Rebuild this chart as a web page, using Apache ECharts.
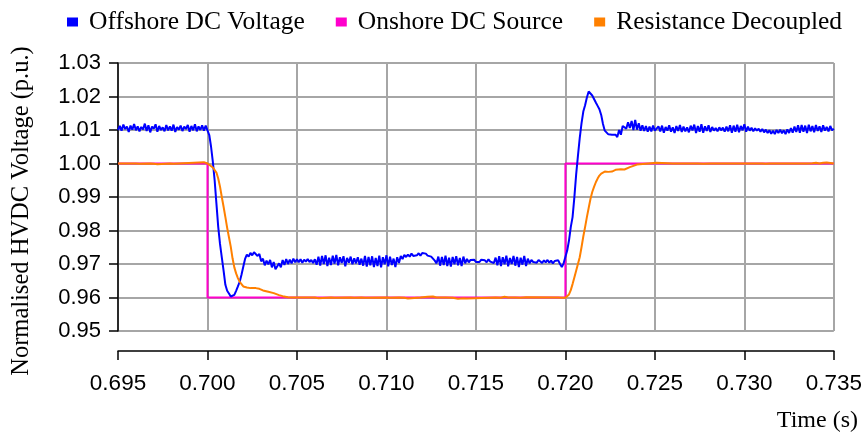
<!DOCTYPE html>
<html>
<head>
<meta charset="utf-8">
<title>HVDC voltage step response</title>
<script src="https://cdn.jsdelivr.net/npm/echarts@6/dist/echarts.min.js"></script>
<style>
  html, body { margin: 0; padding: 0; background: #fff; }
  #chart { width: 865px; height: 432px; }
</style>
</head>
<body>
<div id="chart"></div>
<script>
// Axis ranges and ticks
const xTicks = { min: 0.695, max: 0.735, step: 0.005 };
const yTicks = { min: 0.95, max: 1.03, step: 0.01 };

const seriesNames = ['Offshore DC Voltage', 'Onshore DC Source', 'Resistance Decoupled'];

// Onshore DC source: ideal step down at 0.700 s and back up at 0.720 s
const onshoreTime  = [0.695, 0.700, 0.700, 0.720, 0.720, 0.735];
const onshoreValue = [1.000, 1.000, 0.960, 0.960, 1.000, 1.000];

// Offshore DC voltage, sampled every 0.1 ms; each block lists its start time
const SAMPLE_STEP = 0.0001;

const offshoreBefore = [   // from 0.6950 s
  1.0100, 1.0112, 1.0098, 1.0116, 1.0103, 1.0110, 1.0094, 1.0113, 1.0101, 1.0118,
  1.0099, 1.0111, 1.0096, 1.0109, 1.0102, 1.0119, 1.0097, 1.0114, 1.0093, 1.0110,
  1.0104, 1.0117, 1.0095, 1.0112, 1.0100, 1.0108, 1.0096, 1.0115, 1.0099, 1.0111,
  1.0098, 1.0116, 1.0094, 1.0109, 1.0101, 1.0113, 1.0097, 1.0110, 1.0103, 1.0115,
  1.0095, 1.0112, 1.0099, 1.0117, 1.0096, 1.0111, 1.0100, 1.0114, 1.0098, 1.0113
];
const offshoreFall = [     // from 0.7000 s
  1.0112, 1.0085, 1.0050, 1.0005, 0.9950, 0.9880, 0.9811, 0.9760, 0.9720, 0.9680,
  0.9638, 0.9620, 0.9612, 0.9603, 0.9598, 0.9608, 0.9620, 0.9633, 0.9647, 0.9668,
  0.9692, 0.9715, 0.9728, 0.9722, 0.9733, 0.9726, 0.9735, 0.9738, 0.9724, 0.9730,
  0.9708, 0.9716, 0.9696, 0.9710, 0.9699, 0.9712, 0.9690, 0.9706, 0.9684, 0.9681,
  0.9702, 0.9690, 0.9712, 0.9697, 0.9715, 0.9700, 0.9713, 0.9702, 0.9716, 0.9705,
  0.9714
];
const offshoreLow = [      // from 0.7051 s
  0.9705, 0.9714, 0.9704, 0.9713, 0.9707, 0.9715, 0.9706, 0.9712, 0.9703, 0.9714,
  0.9698, 0.9722, 0.9695, 0.9724, 0.9700, 0.9726, 0.9694, 0.9719, 0.9697, 0.9725,
  0.9701, 0.9727, 0.9696, 0.9720, 0.9703, 0.9723, 0.9693, 0.9718, 0.9704, 0.9722,
  0.9699, 0.9717, 0.9702, 0.9720, 0.9698, 0.9716, 0.9695, 0.9724, 0.9692, 0.9721,
  0.9696, 0.9723, 0.9691, 0.9718, 0.9694, 0.9725, 0.9690, 0.9720, 0.9699, 0.9726,
  0.9693, 0.9722, 0.9697, 0.9716, 0.9691, 0.9720, 0.9703, 0.9724, 0.9715, 0.9727,
  0.9721, 0.9728, 0.9722, 0.9731, 0.9724, 0.9729, 0.9726, 0.9732, 0.9725, 0.9733,
  0.9729, 0.9731, 0.9725, 0.9730, 0.9722, 0.9724, 0.9710, 0.9702, 0.9722, 0.9695,
  0.9721, 0.9697, 0.9725, 0.9694, 0.9719, 0.9692, 0.9721, 0.9699, 0.9723, 0.9696,
  0.9718, 0.9694, 0.9722, 0.9702, 0.9715, 0.9705, 0.9712, 0.9707, 0.9713, 0.9706,
  0.9711, 0.9706, 0.9713, 0.9708, 0.9711, 0.9705, 0.9714, 0.9707, 0.9712, 0.9703,
  0.9719, 0.9696, 0.9723, 0.9694, 0.9720, 0.9699, 0.9725, 0.9693, 0.9718, 0.9700,
  0.9724, 0.9695, 0.9721, 0.9691, 0.9719, 0.9698, 0.9724, 0.9694, 0.9716, 0.9702,
  0.9712, 0.9706, 0.9711, 0.9704, 0.9712, 0.9707, 0.9703, 0.9711, 0.9705, 0.9712,
  0.9704, 0.9710, 0.9702, 0.9709, 0.9704, 0.9711, 0.9700, 0.9691, 0.9702, 0.9703
];
const offshoreRise = [     // from 0.7201 s
  0.9740, 0.9770, 0.9810, 0.9840, 0.9899, 0.9967, 1.0023, 1.0076, 1.0120, 1.0155,
  1.0174, 1.0197, 1.0215, 1.0210, 1.0203, 1.0198, 1.0182, 1.0172, 1.0162, 1.0145,
  1.0118, 1.0098, 1.0093, 1.0087, 1.0085, 1.0086, 1.0084, 1.0086, 1.0079, 1.0100,
  1.0086, 1.0112, 1.0116, 1.0104, 1.0123, 1.0106, 1.0127, 1.0100, 1.0130, 1.0101,
  1.0120, 1.0098, 1.0114, 1.0097, 1.0112, 1.0095, 1.0110, 1.0096, 1.0113, 1.0098
];
const offshoreHigh = [     // from 0.7251 s
  1.0094, 1.0111, 1.0096, 1.0113, 1.0092, 1.0109, 1.0098, 1.0114, 1.0095, 1.0108,
  1.0091, 1.0112, 1.0097, 1.0115, 1.0094, 1.0110, 1.0096, 1.0108, 1.0093, 1.0113,
  1.0099, 1.0116, 1.0091, 1.0112, 1.0095, 1.0117, 1.0092, 1.0111, 1.0097, 1.0114,
  1.0094, 1.0109, 1.0098, 1.0106, 1.0096, 1.0108, 1.0099, 1.0107, 1.0095, 1.0110,
  1.0096, 1.0114, 1.0092, 1.0113, 1.0095, 1.0116, 1.0093, 1.0112, 1.0099, 1.0117,
  1.0095, 1.0110, 1.0098, 1.0107, 1.0096, 1.0105, 1.0098, 1.0104, 1.0095, 1.0103,
  1.0093, 1.0101, 1.0091, 1.0099, 1.0089, 1.0098, 1.0088, 1.0100, 1.0091, 1.0101,
  1.0090, 1.0099, 1.0088, 1.0102, 1.0091, 1.0106, 1.0092, 1.0110, 1.0094, 1.0114,
  1.0092, 1.0115, 1.0095, 1.0113, 1.0091, 1.0116, 1.0096, 1.0112, 1.0093, 1.0115,
  1.0097, 1.0111, 1.0094, 1.0114, 1.0098, 1.0109, 1.0096, 1.0112, 1.0099, 1.0104
];
const offshoreBlocks = [
  { start: 0.6950, values: offshoreBefore },
  { start: 0.7000, values: offshoreFall },
  { start: 0.7051, values: offshoreLow },
  { start: 0.7201, values: offshoreRise },
  { start: 0.7251, values: offshoreHigh }
];

// Resistance-decoupled response (time, value) pairs
const decoupledTime = [
  0.6950, 0.6960, 0.6961, 0.6962, 0.6963, 0.6968, 0.6969, 0.6970, 0.6971, 0.6972,
  0.6973, 0.6979, 0.6980, 0.6981, 0.6982, 0.6998, 0.7000, 0.7001, 0.7003, 0.7005,
  0.7006, 0.7007, 0.7008, 0.7009, 0.7010, 0.7011, 0.7012, 0.7013, 0.7014, 0.7015,
  0.7016, 0.7017, 0.7018, 0.7019, 0.7020, 0.7022, 0.7024, 0.7027, 0.7029, 0.7031,
  0.7034, 0.7037, 0.7040, 0.7042, 0.7045, 0.7047, 0.7060, 0.7061, 0.7062, 0.7063,
  0.7069, 0.7070, 0.7071, 0.7080, 0.7081, 0.7082, 0.7086, 0.7087, 0.7088, 0.7100,
  0.7101, 0.7102, 0.7107, 0.7108, 0.7110, 0.7112, 0.7113, 0.7119, 0.7120, 0.7123,
  0.7126, 0.7128, 0.7133, 0.7134, 0.7137, 0.7140, 0.7143, 0.7145, 0.7146, 0.7161,
  0.7162, 0.7164, 0.7166, 0.7168, 0.7172, 0.7173, 0.7175, 0.7178, 0.7179, 0.7196,
  0.7197, 0.7198, 0.7200, 0.7201, 0.7202, 0.7203, 0.7204, 0.7205, 0.7206, 0.7207,
  0.7208, 0.7209, 0.7210, 0.7211, 0.7212, 0.7213, 0.7214, 0.7215, 0.7216, 0.7217,
  0.7218, 0.7219, 0.7220, 0.7222, 0.7224, 0.7225, 0.7226, 0.7228, 0.7229, 0.7231,
  0.7233, 0.7234, 0.7236, 0.7238, 0.7239, 0.7240, 0.7241, 0.7251, 0.7252, 0.7260,
  0.7261, 0.7262, 0.7274, 0.7275, 0.7277, 0.7278, 0.7281, 0.7293, 0.7294, 0.7295,
  0.7300, 0.7301, 0.7302, 0.7310, 0.7311, 0.7312, 0.7313, 0.7314, 0.7321, 0.7322,
  0.7323, 0.7327, 0.7328, 0.7329, 0.7335, 0.7336, 0.7338, 0.7340, 0.7342, 0.7344,
  0.7346, 0.7347, 0.7350
];
const decoupledValue = [
  1.0000, 1.0000, 1.0003, 0.9999, 1.0000, 1.0000, 1.0003, 0.9999, 1.0002, 0.9998,
  1.0001, 1.0000, 1.0003, 0.9999, 1.0000, 1.0004, 1.0000, 0.9998, 0.9988, 0.9973,
  0.9955, 0.9931, 0.9900, 0.9871, 0.9840, 0.9808, 0.9780, 0.9752, 0.9717, 0.9690,
  0.9672, 0.9658, 0.9647, 0.9640, 0.9633, 0.9630, 0.9628, 0.9628, 0.9626, 0.9621,
  0.9617, 0.9613, 0.9607, 0.9604, 0.9601, 0.9600, 0.9600, 0.9602, 0.9598, 0.9600,
  0.9600, 0.9602, 0.9599, 0.9600, 0.9602, 0.9599, 0.9600, 0.9602, 0.9599, 0.9600,
  0.9602, 0.9599, 0.9600, 0.9597, 0.9599, 0.9597, 0.9600, 0.9600, 0.9603, 0.9602,
  0.9603, 0.9600, 0.9600, 0.9597, 0.9599, 0.9596, 0.9598, 0.9597, 0.9600, 0.9600,
  0.9602, 0.9599, 0.9602, 0.9600, 0.9600, 0.9602, 0.9599, 0.9601, 0.9600, 0.9600,
  0.9602, 0.9599, 0.9599, 0.9603, 0.9609, 0.9622, 0.9640, 0.9660, 0.9680, 0.9700,
  0.9720, 0.9750, 0.9782, 0.9810, 0.9840, 0.9867, 0.9894, 0.9915, 0.9930, 0.9944,
  0.9955, 0.9964, 0.9970, 0.9976, 0.9975, 0.9978, 0.9976, 0.9981, 0.9979, 0.9983,
  0.9982, 0.9986, 0.9989, 0.9993, 0.9991, 0.9997, 1.0000, 1.0002, 1.0000, 1.0000,
  1.0002, 1.0000, 1.0000, 1.0002, 0.9999, 1.0002, 1.0000, 1.0000, 1.0002, 1.0000,
  1.0000, 1.0002, 1.0000, 1.0000, 1.0002, 0.9999, 1.0002, 1.0000, 1.0000, 0.9998,
  1.0000, 1.0000, 1.0002, 1.0000, 1.0000, 1.0002, 1.0001, 1.0002, 1.0000, 1.0002,
  1.0003, 1.0000, 1.0000
];

const colors = { offshore: '#0000ff', onshore: '#ff00cc', decoupled: '#ff8000' };

function zipPairs(xs, ys) {
  const out = [];
  const n = Math.min(xs.length, ys.length);
  for (let i = 0; i < n; i++) out.push([xs[i], ys[i]]);
  return out;
}
function blocksToPairs(blocks) {
  const out = [];
  blocks.forEach(b => {
    b.values.forEach((v, k) => {
      out.push([+(b.start + k * SAMPLE_STEP).toFixed(5), v]);
    });
  });
  return out;
}

const chart = echarts.init(document.getElementById('chart'), null, { renderer: 'canvas' });

const tickFont = 'Liberation Sans, Arial, sans-serif';
const titleFont = 'Liberation Serif, Times New Roman, serif';
const gridColor = '#a6a6a6';

chart.setOption({
  animation: false,
  backgroundColor: '#ffffff',
  color: [colors.offshore, colors.onshore, colors.decoupled],
  grid: { left: 118, right: 31, top: 63, bottom: 101, containLabel: false },
  legend: {
    data: seriesNames,
    orient: 'horizontal',
    left: 62,
    top: 4,
    width: 800,
    icon: 'rect',
    itemWidth: 11,
    itemHeight: 9,
    itemGap: 31,
    textStyle: {
      fontFamily: titleFont,
      fontSize: 25.5,
      color: '#000',
      padding: [0, 0, 0, 6]
    }
  },
  xAxis: {
    type: 'value',
    min: xTicks.min,
    max: xTicks.max,
    interval: xTicks.step,
    offset: 20,
    axisLine: { show: true, onZero: false, lineStyle: { color: '#000', width: 1.5 } },
    axisTick: { show: true, inside: false, length: 9, lineStyle: { color: '#000', width: 1.5 } },
    axisLabel: {
      margin: 21,
      fontFamily: tickFont,
      fontSize: 22.5,
      color: '#000',
      showMinLabel: true,
      showMaxLabel: true,
      formatter: v => v.toFixed(3)
    },
    splitLine: { show: true, lineStyle: { color: gridColor, width: 2 } }
  },
  yAxis: {
    type: 'value',
    min: yTicks.min,
    max: yTicks.max,
    interval: yTicks.step,
    axisLine: { show: true, onZero: false, lineStyle: { color: '#000', width: 1.5 } },
    axisTick: { show: true, inside: false, length: 9, lineStyle: { color: '#000', width: 1.5 } },
    axisLabel: {
      margin: 17,
      fontFamily: tickFont,
      fontSize: 22,
      color: '#000',
      formatter: v => v.toFixed(2)
    },
    splitLine: { show: true, lineStyle: { color: gridColor, width: 2 } }
  },
  graphic: [
    {
      type: 'text',
      x: 22, y: 211,
      rotation: Math.PI / 2,
      style: {
        text: 'Normalised HVDC Voltage (p.u.)',
        font: '24.5px ' + titleFont,
        fill: '#000',
        textAlign: 'center',
        textVerticalAlign: 'middle'
      }
    },
    {
      type: 'text',
      x: 858, y: 421,
      style: {
        text: 'Time (s)',
        font: '24px ' + titleFont,
        fill: '#000',
        textAlign: 'right',
        textVerticalAlign: 'middle'
      }
    }
  ],
  series: [
    {
      name: seriesNames[1],
      type: 'line',
      showSymbol: false,
      data: zipPairs(onshoreTime, onshoreValue),
      lineStyle: { color: colors.onshore, width: 2 },
      itemStyle: { color: colors.onshore },
      z: 2
    },
    {
      name: seriesNames[0],
      type: 'line',
      showSymbol: false,
      data: blocksToPairs(offshoreBlocks),
      lineStyle: { color: colors.offshore, width: 2 },
      itemStyle: { color: colors.offshore },
      z: 3
    },
    {
      name: seriesNames[2],
      type: 'line',
      showSymbol: false,
      data: zipPairs(decoupledTime, decoupledValue),
      lineStyle: { color: colors.decoupled, width: 2 },
      itemStyle: { color: colors.decoupled },
      z: 4
    }
  ]
});
</script>
</body>
</html>
